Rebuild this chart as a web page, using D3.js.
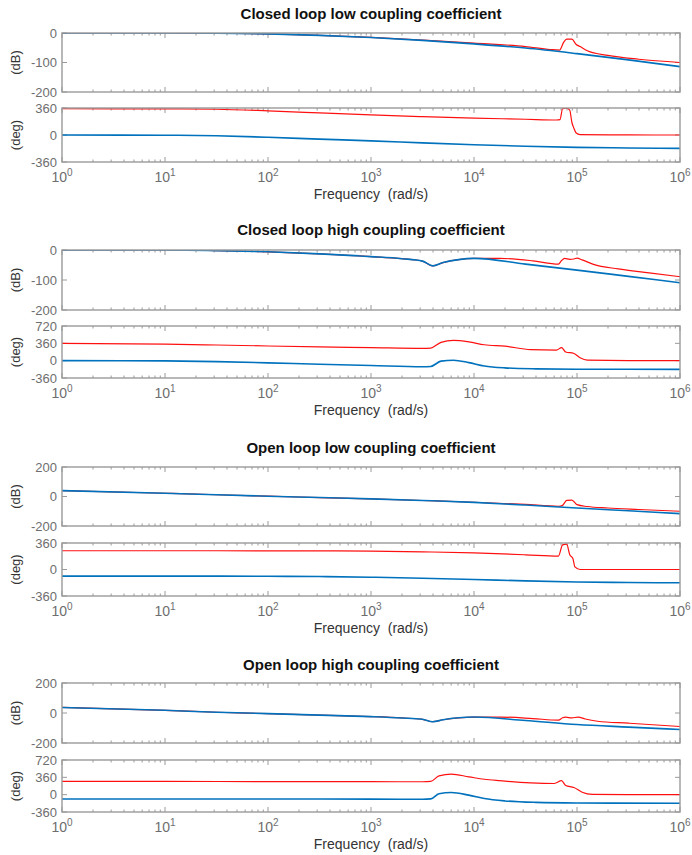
<!DOCTYPE html>
<html>
<head>
<meta charset="utf-8">
<script src="https://cdn.jsdelivr.net/npm/d3@7"></script>
<style>
  body { margin: 0; background: #fff; }
  text { font-family: "Liberation Sans", Arial, Helvetica, sans-serif; }
</style>
</head>
<body>
<svg id="chart" width="692" height="855"></svg>
<script>
// ---- Chart content -------------------------------------------------------
const titles = [
  "Closed loop low coupling coefficient",
  "Closed loop high coupling coefficient",
  "Open loop low coupling coefficient",
  "Open loop high coupling coefficient"
];
const xTickExponents = [0, 1, 2, 3, 4, 5, 6];
const magTickValues = [[-200, -100, 0], [-200, -100, 0], [-200, 0, 200], [-200, 0, 200]];
const magDomains = [[-200, 0], [-200, 0], [-200, 200], [-200, 200]];
const phaseTickValues = [[-360, 0, 360], [-360, 0, 360, 720], [-360, 0, 360], [-360, 0, 360, 720]];
const phaseDomains = [[-360, 360], [-360, 720], [-360, 360], [-360, 720]];

// Each series: [log10(frequency in rad/s), value]
// Closed loop, low coupling
const clLowMagBlue = [[0,0],[1,0],[1.5,-0.5],[2,-3],[2.5,-8],[3,-15],[3.5,-25],[4,-37],[4.5,-51],[5,-70],[5.5,-91],[6,-114]];
const clLowMagRed = [[0,0],[1,0],[1.5,-0.5],[2,-3],[2.5,-8],[3,-15],[3.5,-24],[4,-34],[4.5,-46],[4.74,-56],[4.83,-58],[4.87,-32],[4.9,-21],[4.95,-21],[4.99,-38],[5.03,-46],[5.1,-60],[5.3,-76],[5.6,-89],[6,-100]];
const clLowPhaseBlue = [[0,0],[1,-3],[1.5,-10],[2,-30],[2.5,-55],[3,-78],[3.5,-105],[4,-130],[4.5,-150],[5,-165],[5.5,-173],[6,-178]];
const clLowPhaseRed = [[0,350],[1,348],[1.5,343],[2,322],[2.5,295],[3,268],[3.5,245],[4,225],[4.5,210],[4.8,200],[4.835,205],[4.86,350],[4.9,358],[4.93,330],[4.95,170],[4.97,90],[4.99,30],[5.03,5],[5.5,1],[6,0]];

// Closed loop, high coupling
const clHighMagBlue = [[0,0],[1,0],[1.5,-2],[2,-6],[2.5,-13],[3,-22],[3.3,-29],[3.5,-37],[3.6,-53],[3.7,-42],[3.85,-32],[4,-28],[4.5,-47],[5,-67],[5.5,-88],[6,-109]];
const clHighMagRed = [[0,0],[1,0],[1.5,-2],[2,-6],[2.5,-13],[3,-22],[3.3,-29],[3.5,-37],[3.6,-53],[3.7,-42],[3.85,-32],[4,-28],[4.25,-28],[4.57,-36],[4.82,-47],[4.85,-35],[4.88,-28],[4.93,-31],[4.97,-30],[5,-27],[5.05,-33],[5.16,-48],[5.4,-63],[5.7,-76],[6,-89]];
const clHighPhaseBlue = [[0,0],[1,-5],[1.5,-20],[2,-45],[2.5,-75],[3,-100],[3.5,-125],[3.58,-120],[3.68,-10],[3.8,10],[3.95,-40],[4.1,-110],[4.3,-150],[4.6,-170],[5,-178],[6,-180]];
const clHighPhaseRed = [[0,360],[1,345],[1.5,325],[2,305],[2.5,285],[3,270],[3.5,255],[3.58,262],[3.68,380],[3.8,420],[3.95,390],[4.1,330],[4.3,300],[4.55,230],[4.8,220],[4.85,270],[4.89,180],[4.97,150],[5.03,60],[5.1,10],[5.5,0],[6,0]];

// Open loop, low coupling
const olLowMagBlue = [[0,40],[1,22],[1.5,12],[2,2],[2.5,-7],[3,-16],[3.5,-27],[4,-40],[4.5,-58],[5,-78],[5.5,-97],[6,-116]];
const olLowMagRed = [[0,40],[1,22],[1.5,12],[2,2],[2.5,-7],[3,-16],[3.5,-27],[4,-39],[4.5,-54],[4.82,-66],[4.86,-60],[4.9,-26],[4.95,-24],[5,-55],[5.1,-68],[5.3,-78],[5.6,-88],[6,-100]];
const olLowPhaseBlue = [[0,-90],[1,-90],[2,-92],[2.5,-96],[3,-105],[3.5,-118],[4,-135],[4.5,-155],[5,-170],[5.5,-177],[6,-180]];
const olLowPhaseRed = [[0,255],[1,255],[2,254],[3,250],[3.5,240],[4,225],[4.5,200],[4.82,182],[4.86,335],[4.9,345],[4.93,200],[4.96,150],[4.98,35],[5.03,0],[6,0]];

// Open loop, high coupling
const olHighMagBlue = [[0,37],[1,18],[1.5,5],[2,-4],[2.5,-14],[3,-24],[3.3,-33],[3.5,-42],[3.6,-58],[3.7,-45],[3.85,-32],[4,-27],[4.5,-50],[5,-77],[5.5,-94],[6,-110]];
const olHighMagRed = [[0,37],[1,18],[1.5,5],[2,-4],[2.5,-14],[3,-24],[3.3,-33],[3.5,-42],[3.6,-58],[3.7,-45],[3.85,-32],[4,-27],[4.25,-27],[4.57,-37],[4.82,-48],[4.86,-32],[4.89,-28],[4.95,-33],[5.01,-27],[5.08,-40],[5.2,-55],[5.5,-68],[6,-90]];
const olHighPhaseBlue = [[0,-90],[2,-90],[3,-92],[3.5,-95],[3.58,-88],[3.66,20],[3.78,45],[3.95,-10],[4.1,-80],[4.3,-130],[4.6,-160],[5,-172],[6,-178]];
const olHighPhaseRed = [[0,275],[1,275],[2,272],[3,270],[3.5,268],[3.58,275],[3.66,390],[3.78,425],[3.95,370],[4.1,320],[4.25,290],[4.55,245],[4.78,232],[4.85,290],[4.89,190],[4.97,150],[5.05,50],[5.15,5],[6,0]];

const magSeries = [
  [clLowMagBlue, clLowMagRed], [clHighMagBlue, clHighMagRed],
  [olLowMagBlue, olLowMagRed], [olHighMagBlue, olHighMagRed]
];
const phaseSeries = [
  [clLowPhaseBlue, clLowPhaseRed], [clHighPhaseBlue, clHighPhaseRed],
  [olLowPhaseBlue, olLowPhaseRed], [olHighPhaseBlue, olHighPhaseRed]
];

// ---- Layout & style ------------------------------------------------------
const plotLeft = 62, plotRight = 680;
const blocks = [
  { titleY: 14,  magTop: 33,  magBot: 92,  phTop: 108, phBot: 162 },
  { titleY: 230, magTop: 250, magBot: 310, phTop: 326, phBot: 378 },
  { titleY: 448, magTop: 467, magBot: 526, phTop: 543, phBot: 596 },
  { titleY: 665, magTop: 683, magBot: 743, phTop: 760, phBot: 812 }
];
const blue = "#0072BD", red = "#FF1010";
const axisColor = "#9a9a9a";
const labelColor = "#6e6e6e";

const svg = d3.select("#chart");
const x = d3.scaleLog().domain([1, 1e6]).range([plotLeft, plotRight]);

// minor tick frequencies 2..9 in each decade
const minorTicks = [];
for (let e = 0; e < 6; e++) for (let m = 2; m <= 9; m++) minorTicks.push(m * Math.pow(10, e));
const majorTicks = xTickExponents.map(e => Math.pow(10, e));

let clipId = 0;
function drawAxes(top, bottom, domain, ticks, ylabel, series, isLower) {
  const y = d3.scaleLinear().domain(domain).range([bottom, top]);
  const g = svg.append("g");

  const id = "clip" + (clipId++);
  svg.append("clipPath").attr("id", id).append("rect")
    .attr("x", plotLeft).attr("y", top).attr("width", plotRight - plotLeft).attr("height", bottom - top);

  // ticks (inward) on all four sides
  const tg = g.append("g").attr("stroke", axisColor).attr("stroke-width", 1);
  majorTicks.forEach(f => {
    tg.append("line").attr("x1", x(f)).attr("x2", x(f)).attr("y1", bottom).attr("y2", bottom - 5);
    tg.append("line").attr("x1", x(f)).attr("x2", x(f)).attr("y1", top).attr("y2", top + 5);
  });
  minorTicks.forEach(f => {
    tg.append("line").attr("x1", x(f)).attr("x2", x(f)).attr("y1", bottom).attr("y2", bottom - 2.5);
    tg.append("line").attr("x1", x(f)).attr("x2", x(f)).attr("y1", top).attr("y2", top + 2.5);
  });
  ticks.forEach(v => {
    tg.append("line").attr("x1", plotLeft).attr("x2", plotLeft + 5).attr("y1", y(v)).attr("y2", y(v));
    tg.append("line").attr("x1", plotRight).attr("x2", plotRight - 5).attr("y1", y(v)).attr("y2", y(v));
  });

  // y tick labels
  ticks.forEach(v => {
    g.append("text").attr("x", plotLeft - 5).attr("y", y(v)).attr("dy", "0.36em")
      .attr("text-anchor", "end").attr("font-size", 13).attr("fill", labelColor).text(v);
  });

  // y label
  g.append("text")
    .attr("transform", `translate(20,${(top + bottom) / 2}) rotate(-90)`)
    .attr("text-anchor", "middle").attr("font-size", 13).attr("fill", "#333").text(ylabel);

  // curves: red first, blue on top
  const line = d3.line()
    .x(d => x(Math.pow(10, d[0])))
    .y(d => y(d[1]))
    .curve(d3.curveMonotoneX);
  const cg = g.append("g").attr("clip-path", `url(#${id})`);
  cg.append("path").datum(series[1]).attr("d", line)
    .attr("fill", "none").attr("stroke", red).attr("stroke-width", 1.2)
    .attr("stroke-linejoin", "round");
  cg.append("path").datum(series[0]).attr("d", line)
    .attr("fill", "none").attr("stroke", blue).attr("stroke-width", 1.6)
    .attr("stroke-linejoin", "round");

  // box
  g.append("rect").attr("x", plotLeft).attr("y", top)
    .attr("width", plotRight - plotLeft).attr("height", bottom - top)
    .attr("fill", "none").attr("stroke", axisColor).attr("stroke-width", 1.4);

  if (isLower) {
    majorTicks.forEach((f, i) => {
      const t = g.append("text").attr("x", x(f)).attr("y", bottom + 20)
        .attr("text-anchor", "middle").attr("font-size", 14).attr("fill", labelColor);
      t.append("tspan").text("10");
      t.append("tspan").attr("dy", -6).attr("font-size", 10).text(xTickExponents[i]);
    });
    g.append("text").attr("x", (plotLeft + plotRight) / 2).attr("y", bottom + 37)
      .attr("text-anchor", "middle").attr("font-size", 14).attr("fill", "#333")
      .attr("xml:space", "preserve").text("Frequency  (rad/s)");
  }
}

blocks.forEach((b, i) => {
  svg.append("text").attr("x", (plotLeft + plotRight) / 2).attr("y", b.titleY).attr("dy", "0.35em")
    .attr("text-anchor", "middle").attr("font-size", 15).attr("font-weight", "bold")
    .attr("fill", "#111").text(titles[i]);
  drawAxes(b.magTop, b.magBot, magDomains[i], magTickValues[i], "(dB)", magSeries[i], false);
  drawAxes(b.phTop, b.phBot, phaseDomains[i], phaseTickValues[i], "(deg)", phaseSeries[i], true);
});
</script>
</body>
</html>
